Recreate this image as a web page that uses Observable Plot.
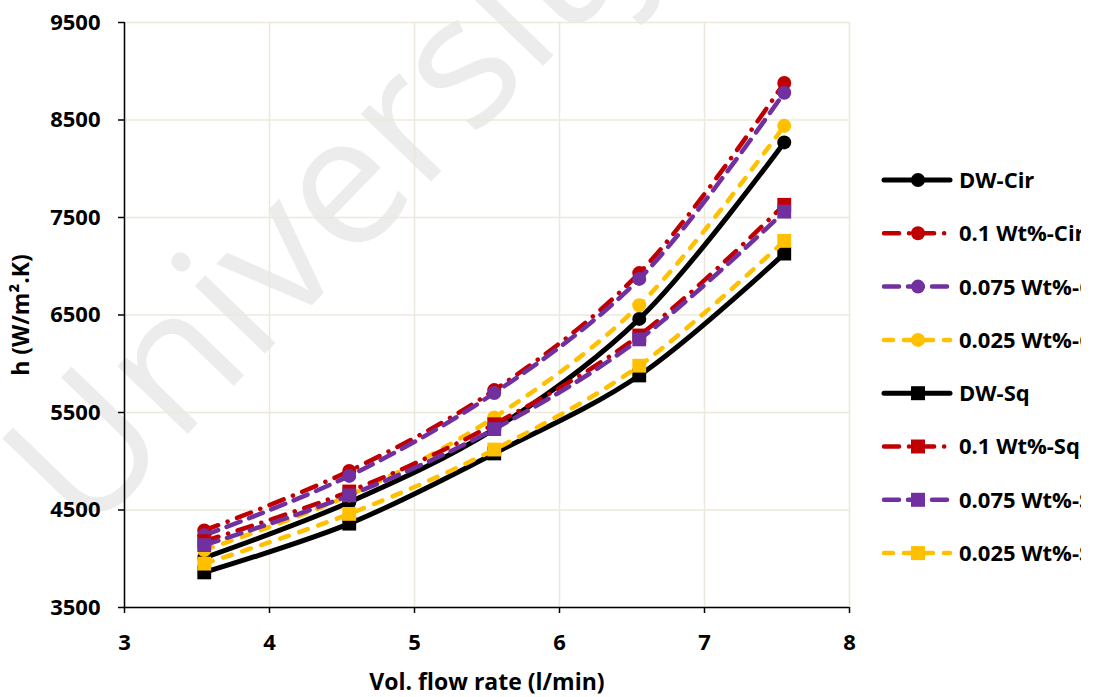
<!DOCTYPE html>
<html><head><meta charset="utf-8">
<script src="https://cdn.jsdelivr.net/npm/d3@7"></script>
<script src="https://cdn.jsdelivr.net/npm/@observablehq/plot@0.6"></script>
<style>
body{margin:0;background:#fff;overflow:hidden}
#wrap{position:relative;width:1101px;height:697px;overflow:hidden}
#wm{position:absolute;left:0;top:0;font-family:"Open Sans";font-size:182px;color:#ececec;transform-origin:0 0;transform:translate(-32px,428px) rotate(-46deg);white-space:nowrap;line-height:1}
#chart{position:absolute;left:0;top:0}
</style></head><body><div id="wrap"><div id="wm">University</div><div id="chart"></div></div>
<script>
const flowRates = [3.55, 4.55, 5.55, 6.55, 7.55];
const seriesNames = ["DW-Cir", "0.1 Wt%-Cir", "0.075 Wt%-Cir", "0.025 Wt%-Cir", "DW-Sq", "0.1 Wt%-Sq", "0.075 Wt%-Sq", "0.025 Wt%-Sq"];
const hDwCir   = [4010, 4580, 5330, 6460, 8270];
const h01Cir   = [4290, 4900, 5730, 6930, 8880];
const h0075Cir = [4240, 4850, 5700, 6870, 8780];
const h0025Cir = [4090, 4650, 5450, 6600, 8440];
const hDwSq    = [3860, 4360, 5080, 5880, 7130];
const h01Sq    = [4180, 4690, 5380, 6290, 7630];
const h0075Sq  = [4140, 4650, 5330, 6250, 7560];
const h0025Sq  = [3950, 4460, 5120, 5980, 7260];
const xTicks = [3, 4, 5, 6, 7, 8];
const yTicks = [3500, 4500, 5500, 6500, 7500, 8500, 9500];
const xTitle = "Vol. flow rate (l/min)";
const yTitle = "h (W/m².K)";

const seriesValues = [hDwCir, h01Cir, h0075Cir, h0025Cir, hDwSq, h01Sq, h0075Sq, h0025Sq];
const seriesColor = ["#000000", "#C00000", "#7030A0", "#FFC000", "#000000", "#C00000", "#7030A0", "#FFC000"];
const seriesDash = [null, "15,10,0.1,10", "15,9", "9,11", null, "15,10,0.1,10", "15,9", "9,11"];
const seriesWidth = [5, 4.5, 4.5, 4.5, 5, 4.5, 4.5, 4.5];
const seriesSymbol = ["circle", "circle", "circle", "circle", "square", "square", "square", "square"];
const FONT = "Open Sans";
const FS = 22;
const TFS = 23;

const seriesMarks = [];
seriesNames.forEach((name, i) => {
  const rows = flowRates.map((x, j) => ({x, h: seriesValues[i][j], series: name}));
  const lineOpts = {x: "x", y: "h", curve: "catmull-rom", stroke: seriesColor[i], strokeWidth: seriesWidth[i], strokeLinecap: "round"};
  if (seriesDash[i]) lineOpts.strokeDasharray = seriesDash[i];
  seriesMarks.push(Plot.line(rows, lineOpts));
  seriesMarks.push(Plot.dot(rows, {x: "x", y: "h", symbol: seriesSymbol[i], r: seriesSymbol[i] === "circle" ? 7 : 7.8, fill: seriesColor[i], stroke: "none"}));
});

const chart = Plot.plot({
  width: 1101, height: 697,
  marginLeft: 124, marginRight: 252, marginTop: 22, marginBottom: 90,
  x: {domain: [3, 8]},
  y: {domain: [3500, 9500]},
  style: {background: "transparent", fontFamily: FONT, fontSize: FS + "px", fontWeight: "bold", color: "#000"},
  marks: [
    Plot.gridX({ticks: xTicks, stroke: "#ECE8DC", strokeOpacity: 1, strokeWidth: 1.5}),
    Plot.gridY({ticks: yTicks, stroke: "#ECE8DC", strokeOpacity: 1, strokeWidth: 1.5}),
    Plot.axisX({ticks: xTicks, tickSize: 6, tickPadding: 21, tickFormat: "d", strokeWidth: 1.5, fontSize: FS, fontWeight: "bold", label: null}),
    Plot.axisY({ticks: yTicks, tickSize: 6, tickPadding: 18, tickFormat: "d", strokeWidth: 1.5, fontSize: FS, fontWeight: "bold", label: null}),
    Plot.ruleX([3], {stroke: "#000", strokeWidth: 1.5}),
    Plot.ruleY([3500], {stroke: "#000", strokeWidth: 1.5}),
    ...seriesMarks
  ]
});
document.getElementById("chart").appendChild(chart);

const svg = d3.select(chart);
// axis titles
svg.append("text").attr("x", 487).attr("y", 690).attr("text-anchor", "middle").attr("fill", "#000")
  .style("font-family", FONT).style("font-size", TFS + "px").style("font-weight", "bold").text(xTitle);
svg.append("text").attr("transform", "translate(29,315) rotate(-90)").attr("text-anchor", "middle").attr("fill", "#000")
  .style("font-family", FONT).style("font-size", TFS + "px").style("font-weight", "bold").text(yTitle);

// legend (clipped at the right like the original chart area)
svg.append("defs").append("clipPath").attr("id", "legclip")
  .append("rect").attr("x", 860).attr("y", 0).attr("width", 221).attr("height", 697);
const lg = svg.append("g").attr("class", "legend").attr("clip-path", "url(#legclip)");
seriesNames.forEach((name, i) => {
  const cy = 180 + i * 53.3;
  const row = lg.append("g").attr("transform", `translate(0,${cy})`);
  const ln = row.append("line").attr("x1", 884).attr("x2", 950).attr("y1", 0).attr("y2", 0)
    .attr("stroke", seriesColor[i]).attr("stroke-width", seriesWidth[i]).attr("stroke-linecap", "round");
  if (seriesDash[i]) ln.attr("stroke-dasharray", seriesDash[i]);
  const sym = seriesSymbol[i] === "circle" ? d3.symbol(d3.symbolCircle, Math.PI * 49) : d3.symbol(d3.symbolSquare, 196);
  row.append("path").attr("d", sym()).attr("transform", "translate(918,0)").attr("fill", seriesColor[i]);
  row.append("text").attr("x", 959).attr("y", 0).attr("dy", "0.36em").attr("fill", "#000")
    .attr("text-anchor", "start")
    .style("font-family", FONT).style("font-size", FS + "px").style("font-weight", "bold").text(name);
});
</script></body></html>
